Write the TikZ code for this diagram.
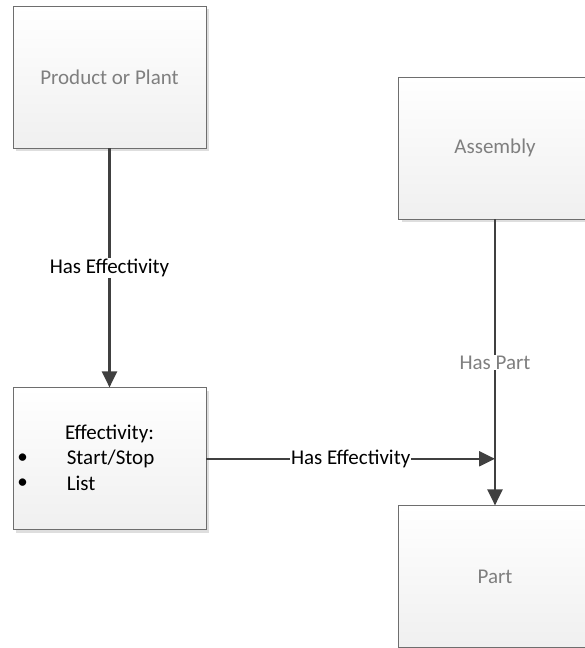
\documentclass[tikz,border=0pt]{standalone}
\usepackage{fontspec}
\setmainfont{Carlito}
\usetikzlibrary{positioning,calc,shadows,arrows.meta}
\definecolor{boxline}{HTML}{6E6E6E}
\definecolor{boxtext}{HTML}{7F7F7F}
\definecolor{wire}{HTML}{404040}

\begin{document}
\begin{tikzpicture}[
  x = 1pt,
  y = 1pt,
  entity/.style = {
    draw = boxline,
    line width = 0.8pt,
    rectangle,
    top color = white,
    bottom color = black!6,
    minimum width = 193pt,
    minimum height = 142pt,
    text = boxtext,
    drop shadow = {shadow xshift=3pt, shadow yshift=-3pt, fill=black!13, opacity=1},
  },
  itemtext/.style = {
    inner sep = 0pt,
    text = black,
  },
  rel/.style = {
    draw = wire,
    line width = 2.2pt,
  },
  tag/.style = {
    fill = white,
    inner sep = 1pt,
  },
  >={Triangle[length=16pt,width=15pt]},
  font = \fontsize{21}{25}\selectfont,
]

  \useasboundingbox (0,0) rectangle (584,-648);

  \node[entity] (product) at (109.5,-77) {Product or Plant};
  \node[entity] (effect) [below=239pt of product] {};
  \node[entity] (assembly) at (495,-148) {Assembly};
  \node[entity] (part) [below=286pt of assembly] {Part};

  % text inside the effectivity box
  \node[itemtext] (effhead) at ($(effect.center)+(0,25)$) {Effectivity:};
  \node[itemtext] (bullet1) at ($(effect.west)+(10,0)$) {\textbullet};
  \node[itemtext] (bullet2) at ($(effect.west)+(10,-25)$) {\textbullet};
  \node[itemtext,anchor=west] (effstart) at ($(effect.west)+(54,0)$) {Start/Stop};
  \node[itemtext,anchor=west] (efflist) at ($(effect.west)+(54,-25)$) {List};

  \draw[rel,->] (product) -- node[tag] {Has Effectivity} (effect);
  \draw[rel,->] (assembly) -- node[tag,text=boxtext] {Has Part} (part);
  \draw[rel,->] (effect) -- node[tag] {Has Effectivity} (effect -| part);

\end{tikzpicture}
\end{document}
